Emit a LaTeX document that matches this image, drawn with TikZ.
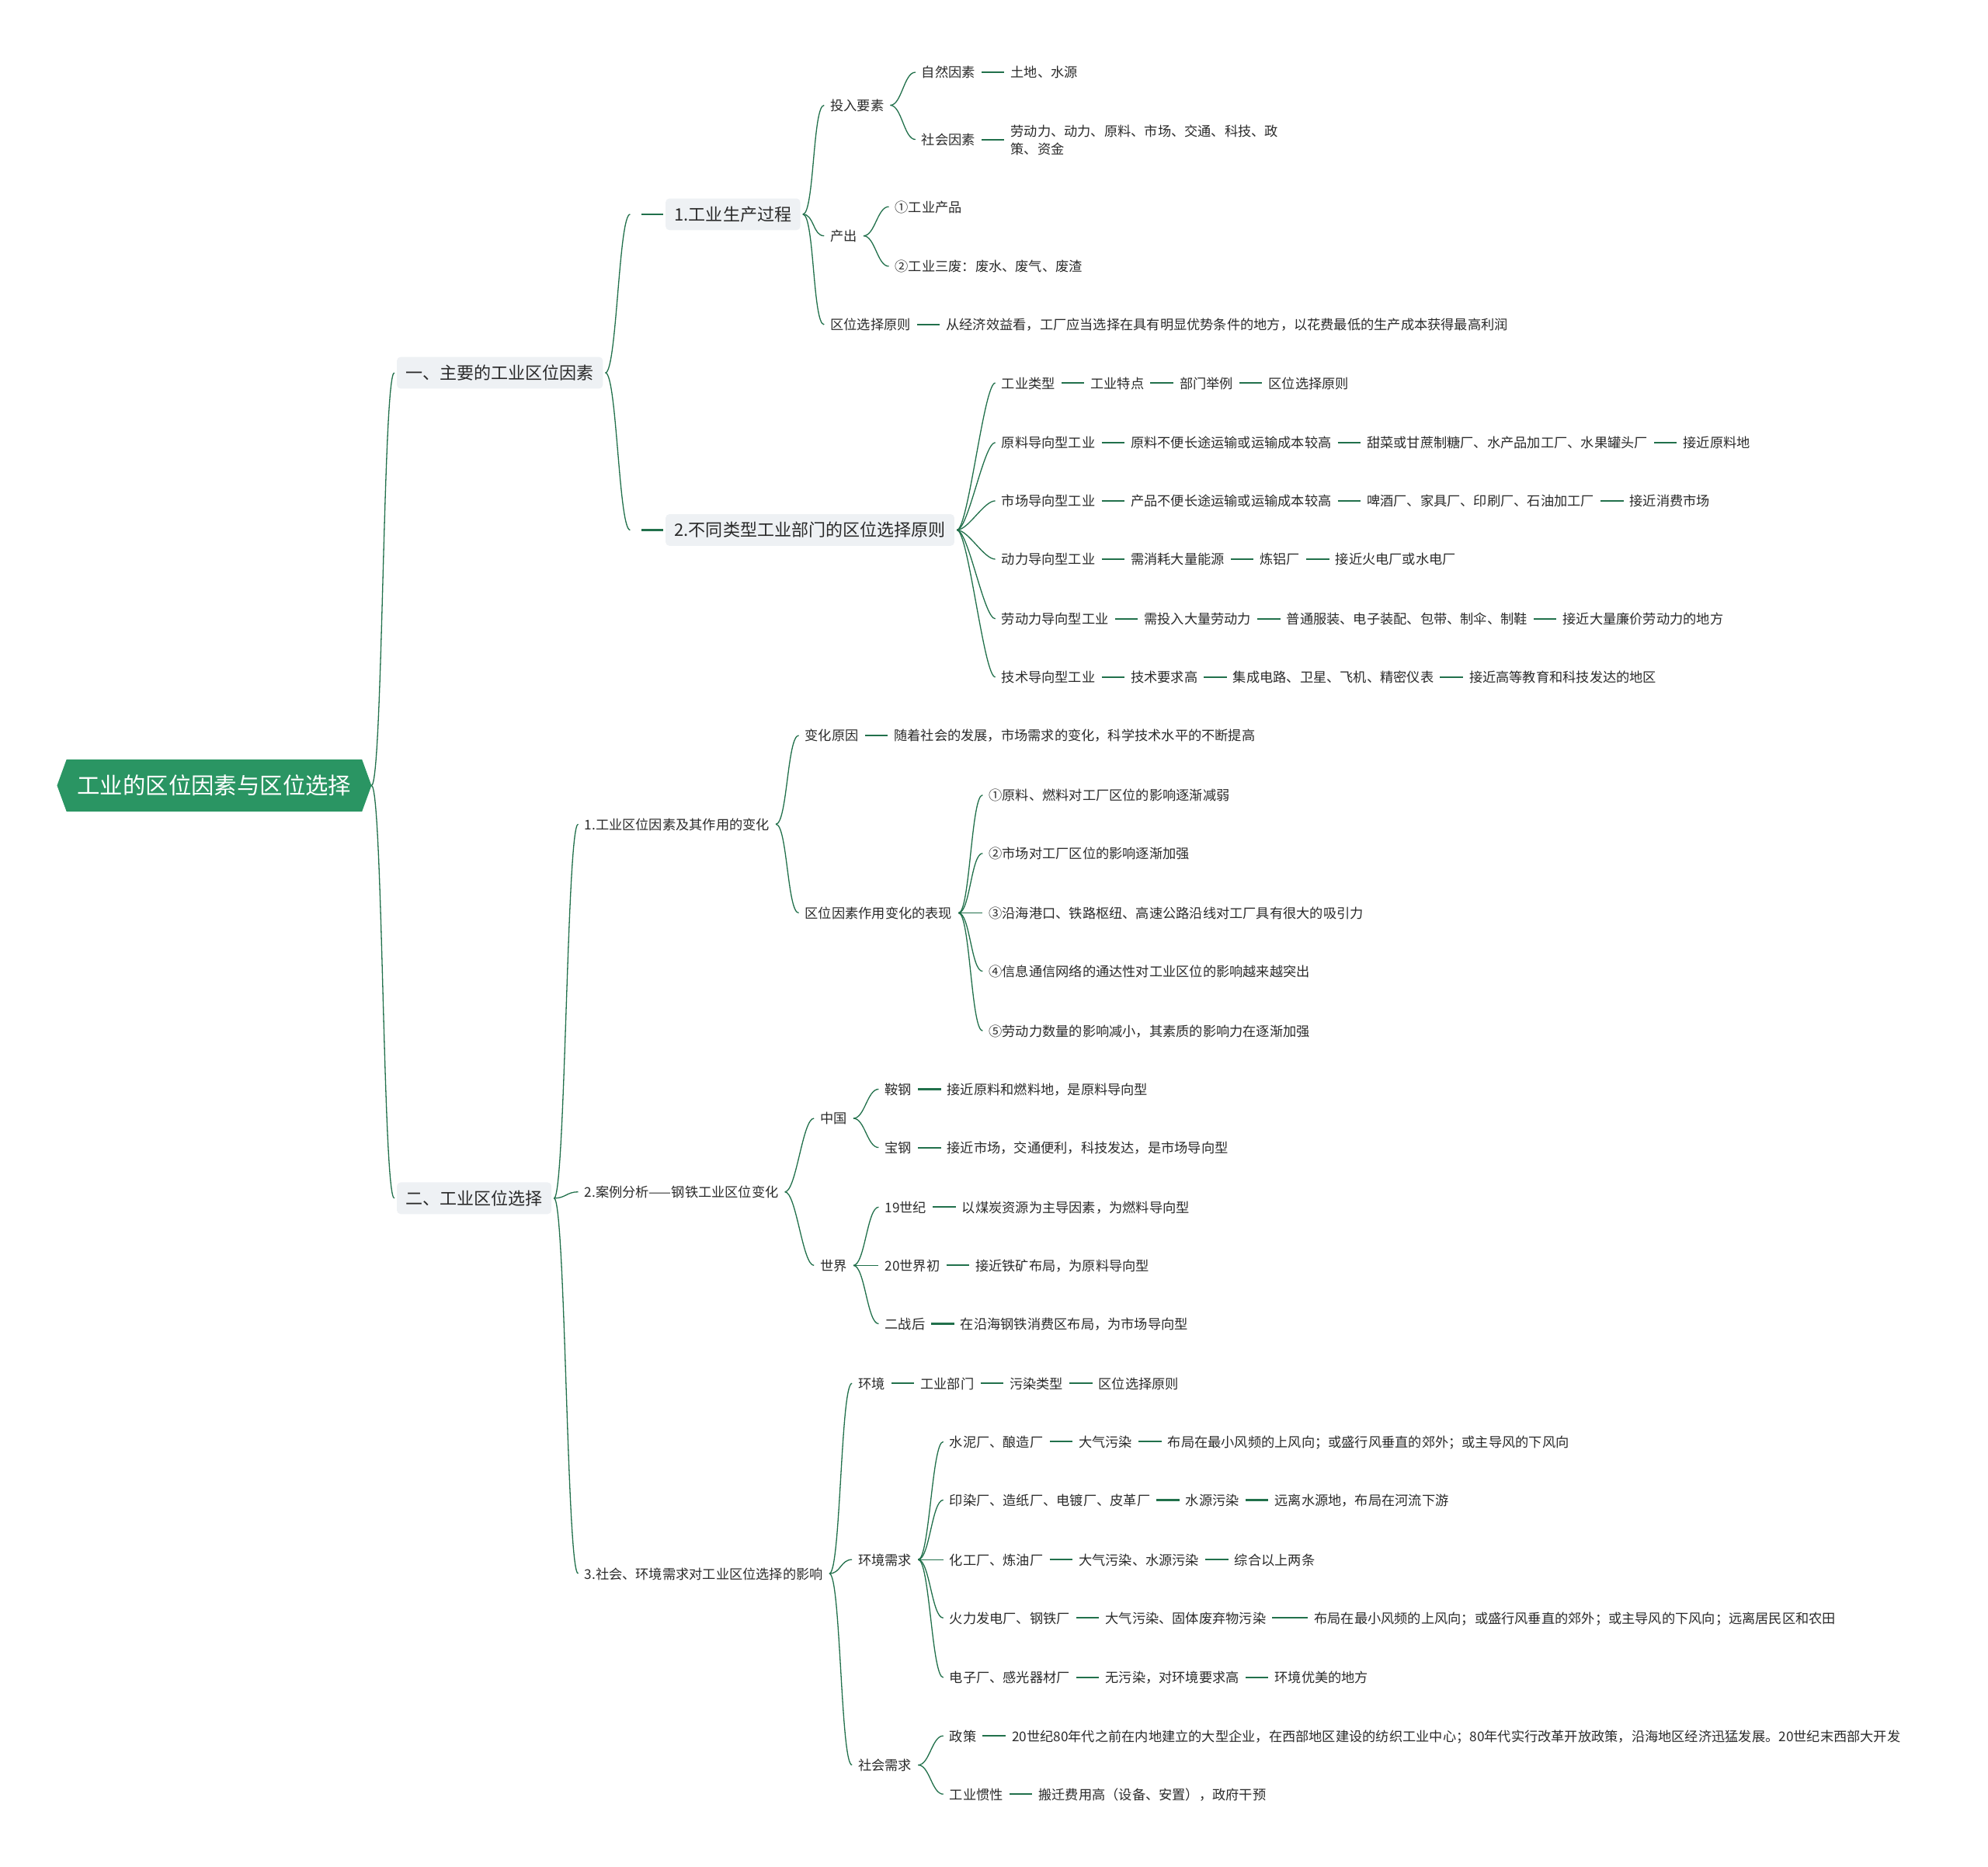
\documentclass[tikz,border=0pt]{standalone}
\usepackage{fontspec}
\setmainfont{Noto Sans CJK SC}
\usetikzlibrary{positioning,shapes.symbols}
\definecolor{rootg}{HTML}{2A9563}
\definecolor{lnk}{HTML}{21704B}
\definecolor{boxg}{HTML}{EEF1F4}
\definecolor{ink}{HTML}{2A2A2A}

\begin{document}
\begin{tikzpicture}[x=1pt,y=-1pt,node distance=18pt]
\tikzset{
  root/.style={signal,signal to=west and east,signal pointer angle=140,fill=rootg,text=white,font=\fontsize{18}{22}\selectfont,minimum height=41pt,minimum width=248pt,inner xsep=8pt,outer sep=0pt},
  topic/.style={fill=boxg,rounded corners=3pt,anchor=west,text=ink,font=\fontsize{13.5}{16}\selectfont,minimum height=25pt,inner xsep=7pt,inner ysep=0pt,outer sep=2pt},
  leafbase/.style={anchor=west,text=ink,font=\fontsize{10.55}{14}\selectfont,inner sep=0pt,outer sep=5pt,align=left},
  leaf/.style={leafbase,text height=10pt,text depth=1.5pt},
  br/.style={draw=lnk,line width=0.8pt,to path={.. controls +(9,0) and +(-9,0) .. (\tikztotarget)}},
  tie/.style={draw=lnk,line width=1.3pt}
}
\useasboundingbox (0,0) rectangle (1568,1472);
\node(root)[root] at (169,619.5){工业的区位因素与区位选择};
\node(s1)[topic] at (311,294){一、主要的工业区位因素};
\node(s2)[topic] at (311,945){二、工业区位选择};
\node(p1)[topic] at (523,169){1.工业生产过程};
\node(p2)[topic] at (523,418){2.不同类型工业部门的区位选择原则};
\node(inp)[leaf] at (650,83){投入要素};
\node(nat)[leaf] at (722,57){自然因素};
\node(natv)[leaf,right=of nat]{土地、水源};
\node(soc)[leaf] at (722,110){社会因素};
\node(socv)[leafbase,right=of soc,yshift=-0.5pt]{劳动力、动力、原料、市场、交通、科技、政\\策、资金};
\node(out)[leaf] at (650,186){产出};
\node(out1)[leaf] at (701,163){①工业产品};
\node(out2)[leaf] at (701,210){②工业三废：废水、废气、废渣};
\node(rule)[leaf] at (650,256){区位选择原则};
\node(rulev)[leaf,right=of rule]{从经济效益看，工厂应当选择在具有明显优势条件的地方，以花费最低的生产成本获得最高利润};
\node(t1)[leaf] at (785,302){工业类型};
\node(t1a)[leaf,right=of t1]{工业特点};
\node(t1b)[leaf,right=of t1a]{部门举例};
\node(t1c)[leaf,right=of t1b]{区位选择原则};
\node(t2)[leaf] at (785,349){原料导向型工业};
\node(t2a)[leaf,right=of t2]{原料不便长途运输或运输成本较高};
\node(t2b)[leaf,right=of t2a]{甜菜或甘蔗制糖厂、水产品加工厂、水果罐头厂};
\node(t2c)[leaf,right=of t2b]{接近原料地};
\node(t3)[leaf] at (785,395){市场导向型工业};
\node(t3a)[leaf,right=of t3]{产品不便长途运输或运输成本较高};
\node(t3b)[leaf,right=of t3a]{啤酒厂、家具厂、印刷厂、石油加工厂};
\node(t3c)[leaf,right=of t3b]{接近消费市场};
\node(t4)[leaf] at (785,441){动力导向型工业};
\node(t4a)[leaf,right=of t4]{需消耗大量能源};
\node(t4b)[leaf,right=of t4a]{炼铝厂};
\node(t4c)[leaf,right=of t4b]{接近火电厂或水电厂};
\node(t5)[leaf] at (785,488){劳动力导向型工业};
\node(t5a)[leaf,right=of t5]{需投入大量劳动力};
\node(t5b)[leaf,right=of t5a]{普通服装、电子装配、包带、制伞、制鞋};
\node(t5c)[leaf,right=of t5b]{接近大量廉价劳动力的地方};
\node(t6)[leaf] at (785,534){技术导向型工业};
\node(t6a)[leaf,right=of t6]{技术要求高};
\node(t6b)[leaf,right=of t6a]{集成电路、卫星、飞机、精密仪表};
\node(t6c)[leaf,right=of t6b]{接近高等教育和科技发达的地区};
\node(b1)[leaf] at (456,650){1.工业区位因素及其作用的变化};
\node(cause)[leaf] at (630,580){变化原因};
\node(causev)[leaf,right=of cause]{随着社会的发展，市场需求的变化，科学技术水平的不断提高};
\node(show)[leaf] at (630,720){区位因素作用变化的表现};
\node(sh1)[leaf] at (775,627){①原料、燃料对工厂区位的影响逐渐减弱};
\node(sh2)[leaf] at (775,673){②市场对工厂区位的影响逐渐加强};
\node(sh3)[leaf] at (775,720){③沿海港口、铁路枢纽、高速公路沿线对工厂具有很大的吸引力};
\node(sh4)[leaf] at (775,766){④信息通信网络的通达性对工业区位的影响越来越突出};
\node(sh5)[leaf] at (775,813){⑤劳动力数量的影响减小，其素质的影响力在逐渐加强};
\node(b2)[leaf] at (456,940){2.案例分析——钢铁工业区位变化};
\node(cn)[leaf] at (642,882){中国};
\node(ag)[leaf] at (693,859){鞍钢};
\node(agv)[leaf,right=of ag]{接近原料和燃料地，是原料导向型};
\node(bg)[leaf] at (693,905){宝钢};
\node(bgv)[leaf,right=of bg]{接近市场，交通便利，科技发达，是市场导向型};
\node(wd)[leaf] at (642,998){世界};
\node(c19)[leaf] at (693,952){19世纪};
\node(c19v)[leaf,right=of c19]{以煤炭资源为主导因素，为燃料导向型};
\node(c20)[leaf] at (693,998){20世界初};
\node(c20v)[leaf,right=of c20]{接近铁矿布局，为原料导向型};
\node(pw)[leaf] at (693,1044){二战后};
\node(pwv)[leaf,right=of pw]{在沿海钢铁消费区布局，为市场导向型};
\node(b3)[leaf] at (456,1241){3.社会、环境需求对工业区位选择的影响};
\node(env)[leaf] at (672,1091){环境};
\node(enva)[leaf,right=of env]{工业部门};
\node(envb)[leaf,right=of enva]{污染类型};
\node(envc)[leaf,right=of envb]{区位选择原则};
\node(need)[leaf] at (672,1230){环境需求};
\node(f1)[leaf] at (744,1137){水泥厂、酿造厂};
\node(f1a)[leaf,right=of f1]{大气污染};
\node(f1b)[leaf,right=of f1a]{布局在最小风频的上风向；或盛行风垂直的郊外；或主导风的下风向};
\node(f2)[leaf] at (744,1183){印染厂、造纸厂、电镀厂、皮革厂};
\node(f2a)[leaf,right=of f2]{水源污染};
\node(f2b)[leaf,right=of f2a]{远离水源地，布局在河流下游};
\node(f3)[leaf] at (744,1230){化工厂、炼油厂};
\node(f3a)[leaf,right=of f3]{大气污染、水源污染};
\node(f3b)[leaf,right=of f3a]{综合以上两条};
\node(f4)[leaf] at (744,1276){火力发电厂、钢铁厂};
\node(f4a)[leaf,right=of f4]{大气污染、固体废弃物污染};
\node(f4b)[leaf,right=28pt of f4a]{布局在最小风频的上风向；或盛行风垂直的郊外；或主导风的下风向；远离居民区和农田};
\node(f5)[leaf] at (744,1323){电子厂、感光器材厂};
\node(f5a)[leaf,right=of f5]{无污染，对环境要求高};
\node(f5b)[leaf,right=of f5a]{环境优美的地方};
\node(socn)[leaf] at (672,1392){社会需求};
\node(pol)[leaf] at (744,1369){政策};
\node(polv)[leaf,right=of pol]{20世纪80年代之前在内地建立的大型企业，在西部地区建设的纺织工业中心；80年代实行改革开放政策，沿海地区经济迅猛发展。20世纪末西部大开发};
\node(iner)[leaf] at (744,1415){工业惯性};
\node(inerv)[leaf,right=of iner]{搬迁费用高（设备、安置），政府干预};
\foreach \c in {s1,s2} \draw[br](root.east) to (\c.west);
\foreach \c in {p1,p2} {\draw[br](s1.east) to ([xshift=-26pt]\c.west); \draw[tie]([xshift=-17pt]\c.west)--(\c.west);}
\foreach \c in {inp,out,rule} \draw[br](p1.east) to (\c.west);
\foreach \c in {nat,soc} \draw[br](inp.east) to (\c.west);
\foreach \c in {out1,out2} \draw[br](out.east) to (\c.west);
\foreach \c in {t1,t2,t3,t4,t5,t6} \draw[br](p2.east) to (\c.west);
\foreach \c in {b1,b2,b3} \draw[br](s2.east) to (\c.west);
\foreach \c in {cause,show} \draw[br](b1.east) to (\c.west);
\foreach \c in {sh1,sh2,sh3,sh4,sh5} \draw[br](show.east) to (\c.west);
\foreach \c in {cn,wd} \draw[br](b2.east) to (\c.west);
\foreach \c in {ag,bg} \draw[br](cn.east) to (\c.west);
\foreach \c in {c19,c20,pw} \draw[br](wd.east) to (\c.west);
\foreach \c in {env,need,socn} \draw[br](b3.east) to (\c.west);
\foreach \c in {f1,f2,f3,f4,f5} \draw[br](need.east) to (\c.west);
\foreach \c in {pol,iner} \draw[br](socn.east) to (\c.west);
\draw[tie](nat)--(natv); \draw[tie](soc)--(soc-|socv.west); \draw[tie](rule)--(rulev);
\foreach \r in {t1,t2,t3,t4,t5,t6} {\draw[tie](\r)--(\r a); \draw[tie](\r a)--(\r b); \draw[tie](\r b)--(\r c);}
\draw[tie](cause)--(causev); \draw[tie](ag)--(agv); \draw[tie](bg)--(bgv);
\draw[tie](c19)--(c19v); \draw[tie](c20)--(c20v); \draw[tie](pw)--(pwv);
\draw[tie](env)--(enva); \draw[tie](enva)--(envb); \draw[tie](envb)--(envc);
\foreach \r in {f1,f2,f3,f4,f5} {\draw[tie](\r)--(\r a); \draw[tie](\r a)--(\r b);}
\draw[tie](pol)--(polv); \draw[tie](iner)--(inerv);
\end{tikzpicture}
\end{document}
